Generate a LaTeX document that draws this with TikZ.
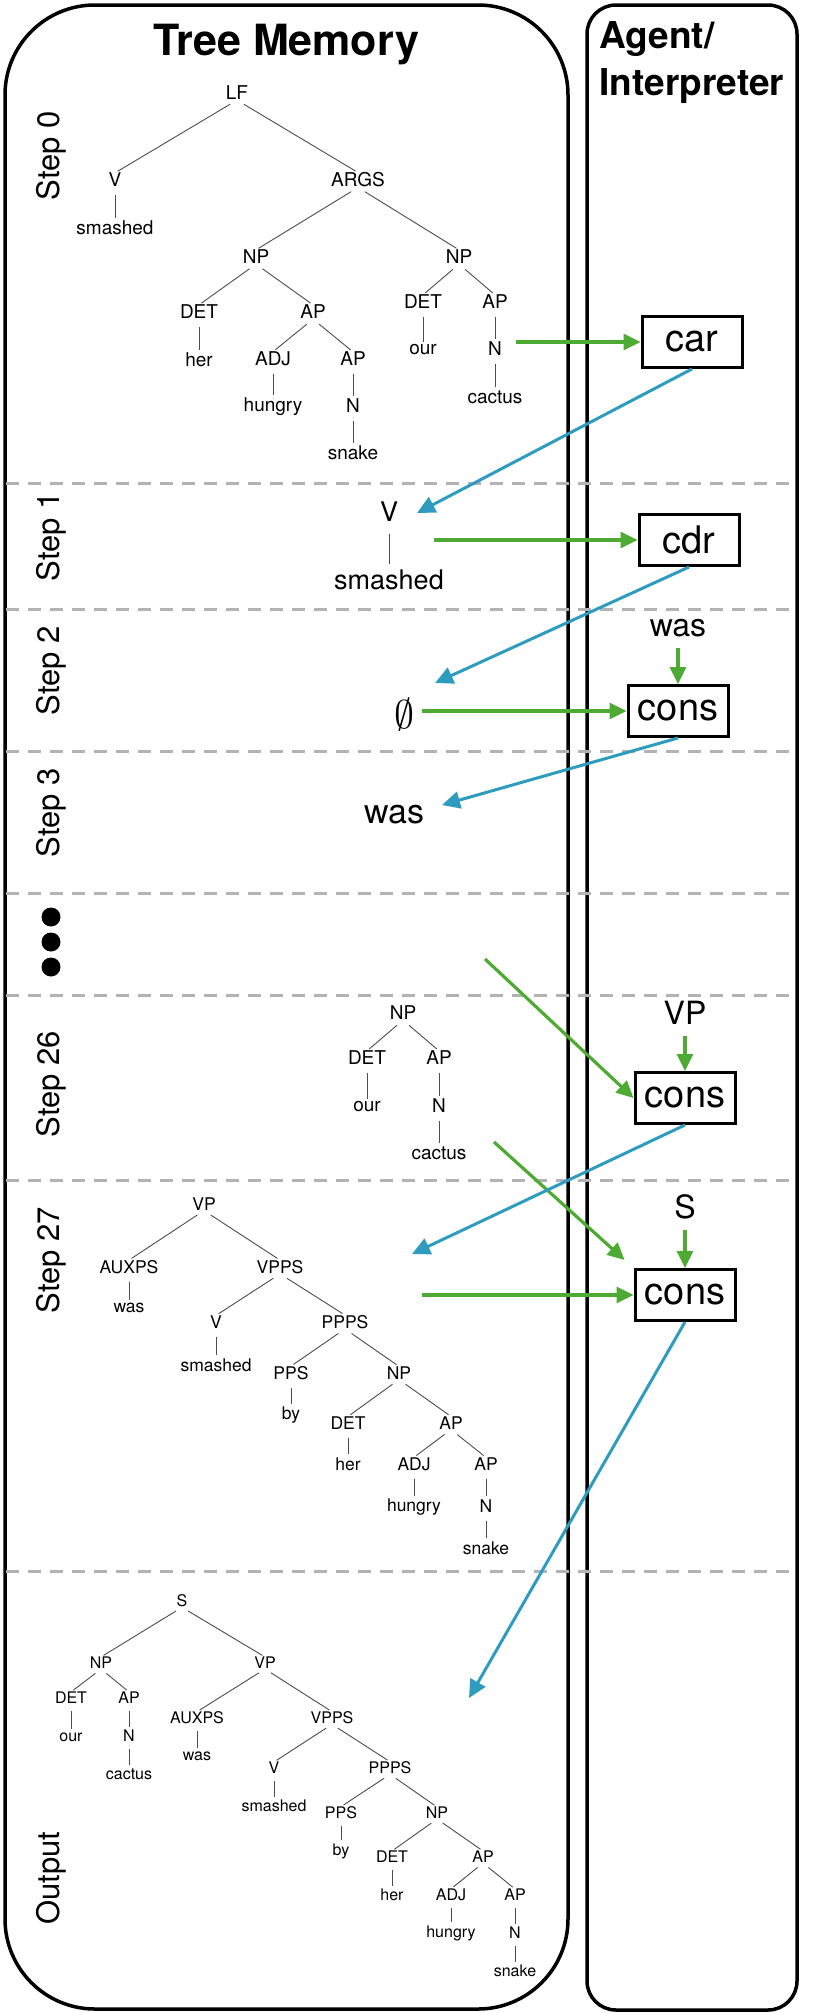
\RequirePackage{fix-cm}
\documentclass[tikz,border=0pt]{standalone}
\usepackage{fontspec}
\setmainfont{TeX Gyre Heros}
\usetikzlibrary{arrows.meta}

\definecolor{agreen}{HTML}{4DAA32}
\definecolor{ablue}{HTML}{2E9CBE}
\definecolor{sepgray}{HTML}{B3B3B3}

\newcommand{\tfont}[1]{\fontsize{#1}{#1}\selectfont}

\tikzset{
  panel/.style={draw=black, line width=3.5pt},
  sepline/.style={draw=sepgray, line width=3pt, dash pattern=on 13pt off 9pt},
  word/.style={inner sep=0pt},
  branch/.style={draw=black!70, line width=0.9pt, shorten <=8pt, shorten >=3pt},
  steplabel/.style={rotate=90, anchor=base, font=\tfont{31}},
  opbox/.style={draw, line width=3pt, minimum width=100pt, minimum height=51pt, inner sep=0pt, font=\tfont{38}},
  oplabel/.style={inner sep=0pt, font=\tfont{32}},
  garrow/.style={draw=agreen, line width=3.2pt, -{Triangle[length=17pt,width=16pt]}},
  barrow/.style={draw=ablue, line width=3pt, -{Triangle[length=18pt,width=17pt]}}
}

\begin{document}
\begin{tikzpicture}[x=1pt, y=-1pt]
\useasboundingbox (0,0) rectangle (830,2013);

% Panels
\draw[panel, rounded corners=90pt] (5,5) rectangle (568,2009);
\draw[panel, rounded corners=29pt] (587,5) rectangle (797,2010);

% Headings
\node[anchor=base, font=\tfont{43}\bfseries] (treemem) at (286,55) {Tree Memory};
\node[anchor=base west, align=left, font=\fontsize{37}{47}\selectfont\bfseries] (agent) at (596,95) {Agent/\\Interpreter};

% Separators between steps
\foreach \y in {483,609,751,893,995,1180,1571} {
    \draw[sepline] (6,\y) -- (797,\y);
}

% Step labels
\foreach \n/\y/\t in {0/156/Step 0, 1/537/Step 1, 2/671/Step 2, 3/813/Step 3, 26/1084/Step 26, 27/1260/Step 27, out/1878/Output} {
    \node[steplabel] (step\n) at (59,\y) {\t};
}
\foreach \y in {917,942,967} {
    \fill (51,\y) circle (9.5pt);
}

% Step 0 tree
\foreach \n/\x/\y/\w in {lf/237/93/LF, v/115/180/V, smashed/115/228/smashed, args/358/180/ARGS,
    np1/256/257/NP, np2/459/257/NP, det1/199/312/DET, her/199/360/her, ap1/313/312/AP,
    adj/273/359/ADJ, hungry/273/407/hungry, ap2/353/359/AP, n1/353/406/N, snake/353/453/snake,
    det2/423/302/DET, our/423/350/our, ap3/495/302/AP, n2/495/349/N, cactus/495/397/cactus} {
    \node[word, font=\tfont{19}] (s0\n) at (\x,\y) {\w};
}
\foreach \p/\c in {lf/v, lf/args, v/smashed, args/np1, args/np2, np1/det1, np1/ap1, det1/her,
    ap1/adj, ap1/ap2, adj/hungry, ap2/n1, n1/snake, np2/det2, np2/ap3, det2/our, ap3/n2, n2/cactus} {
    \draw[branch] (s0\p.south) -- (s0\c.north);
}

% Step 1
\node[word, font=\tfont{27}] (s1v) at (389,512) {V};
\node[word, font=\tfont{27}] (s1smashed) at (389,580) {smashed};
\draw[branch, shorten <=12pt, shorten >=6pt] (s1v.south) -- (s1smashed.north);

% Step 2 and 3
\node[word, font=\tfont{40}] (s2empty) at (404,715) {$\emptyset$};
\node[word, font=\tfont{34}] (s3was) at (394,815) {was};

% Step 26 tree
\foreach \n/\x/\y/\w in {np/403/1013/NP, det/367/1058/DET, our/367/1107/our, ap/439/1058/AP,
    n/439/1106/N, cactus/439/1153/cactus} {
    \node[word, font=\tfont{19}] (s26\n) at (\x,\y) {\w};
}
\foreach \p/\c in {np/det, np/ap, det/our, ap/n, n/cactus} {
    \draw[branch] (s26\p.south) -- (s26\c.north);
}

% Step 27 tree
\foreach \n/\x/\y/\w in {vp/204/1204/VP, auxps/129/1267/AUXPS, was/129/1308/was, vpps/280/1267/VPPS,
    v/216/1322/V, smashed/216/1365/smashed, ppps/345/1322/PPPS, pps/291/1373/PPS, by/291/1415/by,
    np/399/1373/NP, det/348/1423/DET, her/348/1464/her, ap1/451/1423/AP, adj/414/1464/ADJ,
    hungry/414/1507/hungry, ap2/486/1464/AP, n/486/1506/N, snake/486/1548/snake} {
    \node[word, font=\tfont{17.5}] (s27\n) at (\x,\y) {\w};
}
\foreach \p/\c in {vp/auxps, vp/vpps, auxps/was, vpps/v, vpps/ppps, v/smashed, ppps/pps, ppps/np,
    pps/by, np/det, np/ap1, det/her, ap1/adj, ap1/ap2, adj/hungry, ap2/n, n/snake} {
    \draw[branch] (s27\p.south) -- (s27\c.north);
}

% Output tree
\foreach \n/\x/\y/\w in {s/182/1601/S, np1/101/1663/NP, det1/71/1698/DET, our/71/1737/our,
    ap1/129/1698/AP, n1/129/1736/N, cactus/129/1774/cactus, vp/265/1663/VP, auxps/197/1718/AUXPS,
    was/197/1756/was, vpps/332/1718/VPPS, v/274/1768/V, smashed/274/1806/smashed, ppps/390/1768/PPPS,
    pps/341/1813/PPS, by/341/1851/by, np2/437/1813/NP, det2/392/1857/DET, her/392/1895/her,
    ap2/483/1857/AP, adj/451/1895/ADJ, hungry/451/1933/hungry, ap3/515/1895/AP, n2/515/1933/N,
    snake/515/1971/snake} {
    \node[word, font=\tfont{16}] (out\n) at (\x,\y) {\w};
}
\foreach \p/\c in {s/np1, s/vp, np1/det1, np1/ap1, det1/our, ap1/n1, n1/cactus, vp/auxps, vp/vpps,
    auxps/was, vpps/v, vpps/ppps, v/smashed, ppps/pps, ppps/np2, pps/by, np2/det2, np2/ap2,
    det2/her, ap2/adj, ap2/ap3, adj/hungry, ap3/n2, n2/snake} {
    \draw[branch, shorten <=7pt] (out\p.south) -- (out\c.north);
}

% Interpreter operations
\node[opbox] (car) at (692,342) {car};
\node[opbox] (cdr) at (689,540) {cdr};
\node[opbox] (cons2) at (678,711) {cons};
\node[opbox] (cons26) at (685,1098) {cons};
\node[opbox] (cons27) at (685,1295) {cons};
\node[oplabel] (in2) at (678,628) {was};
\node[oplabel] (in26) at (685,1013) {VP};
\node[oplabel] (in27) at (685,1207) {S};

% Inputs to the interpreter
\coordinate (g0) at (516,342);
\coordinate (g1) at (434,540);
\coordinate (g2) at (422,711);
\coordinate (g3) at (485,959);
\coordinate (g4) at (494,1142);
\coordinate (g5) at (422,1295);
\draw[garrow] (g0) -- (car.west);
\draw[garrow] (g1) -- (cdr.west);
\draw[garrow] (g2) -- (cons2.west);
\draw[garrow] (g3) -- (cons26.west);
\draw[garrow, shorten >=12pt] (g4) -- (cons27.north west);
\draw[garrow] (g5) -- (cons27.west);
\foreach \i in {2,26,27} {
    \draw[garrow, shorten <=11pt] (in\i.south) -- (cons\i.north);
}

% Results written back to memory
\coordinate (b1) at (417,513);
\coordinate (b2) at (435,683);
\coordinate (b3) at (442,805);
\coordinate (b4) at (412,1254);
\coordinate (b5) at (469,1698);
\draw[barrow] (car.south) -- (b1);
\draw[barrow] (cdr.south) -- (b2);
\draw[barrow] (cons2.south) -- (b3);
\draw[barrow] (cons26.south) -- (b4);
\draw[barrow] (cons27.south) -- (b5);

\end{tikzpicture}
\end{document}
